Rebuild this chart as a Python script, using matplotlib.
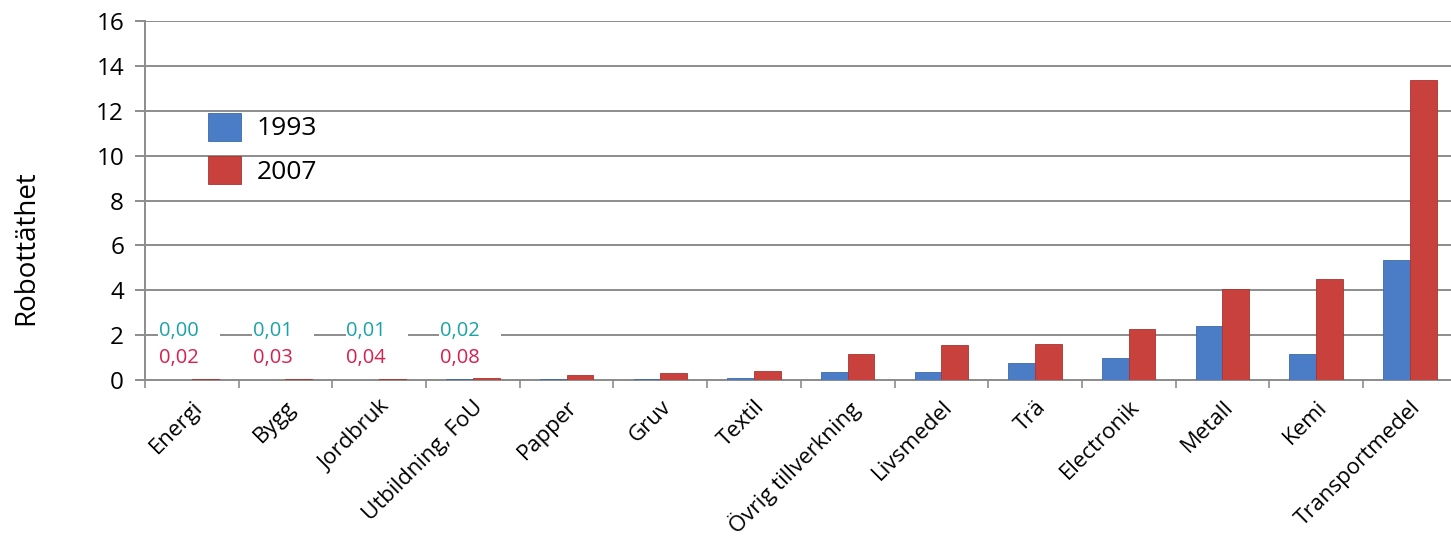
import numpy as np
import matplotlib.pyplot as plt

plt.rcParams['font.family'] = ['Open Sans', 'DejaVu Sans']

branscher = ['Energi', 'Bygg', 'Jordbruk', 'Utbildning, FoU', 'Papper', 'Gruv',
             'Textil', 'Övrig tillverkning', 'Livsmedel', 'Trä', 'Electronik',
             'Metall', 'Kemi', 'Transportmedel']
ar_1993 = [0.00, 0.01, 0.01, 0.02, 0.03, 0.03, 0.08, 0.35, 0.35, 0.75, 0.97,
           2.40, 1.15, 5.33]
ar_2007 = [0.02, 0.03, 0.04, 0.08, 0.22, 0.33, 0.40, 1.16, 1.55, 1.60, 2.27,
           4.04, 4.49, 13.38]
# de minsta värdena skrivs ut som text, de syns inte som staplar
n_etiketter = 4

blue = '#4a7dc6'
red = '#c9413d'
grid_col = '#8c8c8c'

fig = plt.figure(figsize=(14.51, 5.42), dpi=100)
ax = fig.add_axes([0.0999, 0.299, 0.904, 0.662])

x = np.arange(len(branscher))
w = 0.285
ax.bar(x - w / 2, ar_1993, w, color=blue, edgecolor='#3c6aab', linewidth=0.6,
       label='1993', zorder=3)
ax.bar(x + w / 2, ar_2007, w, color=red, edgecolor='#a83431', linewidth=0.6,
       label='2007', zorder=3)

for i in range(n_etiketter):
    ax.text(i - 0.35, 2.2, f'{ar_1993[i]:.2f}'.replace('.', ',') + '    ',
            color='#1aa3a6', fontsize=14.5, ha='left', va='center', zorder=4,
            bbox=dict(facecolor='white', edgecolor='none', pad=0.5))
    ax.text(i - 0.35, 1.0, f'{ar_2007[i]:.2f}'.replace('.', ','),
            color='#d81f4e', fontsize=14.5, ha='left', va='center', zorder=4)

ax.set_xlim(-0.5, len(branscher) - 0.5)
ax.set_ylim(0, 16)
ax.set_yticks(np.arange(0, 17, 2))
ax.yaxis.grid(True, color=grid_col, linewidth=1.4)
ax.set_axisbelow(True)

ax.set_xticks(x)
ax.set_xticklabels(branscher, rotation=45, ha='right', rotation_mode='anchor',
                   fontsize=16)
ax.set_xticks(np.arange(-0.5, len(branscher), 1), minor=True)
ax.tick_params(axis='x', which='major', length=0, pad=12)
ax.tick_params(axis='x', which='minor', length=6, color=grid_col, width=1.2)
ax.tick_params(axis='y', length=7, color=grid_col, width=1.4, labelsize=17.5,
               pad=8)

for s in ['top', 'right']:
    ax.spines[s].set_visible(False)
for s in ['left', 'bottom']:
    ax.spines[s].set_color(grid_col)
    ax.spines[s].set_linewidth(1.4)

ax.set_ylabel('Robottäthet', fontsize=20)
ax.yaxis.set_label_coords(-0.080, 0.37)

ax.legend(loc='upper left', bbox_to_anchor=(0.048, 0.745), frameon=False,
          fontsize=19, handlelength=1.25, handleheight=1.25,
          handletextpad=0.6, labelspacing=0.55, borderpad=0, borderaxespad=0)

fig.savefig('out.png', dpi=100)
